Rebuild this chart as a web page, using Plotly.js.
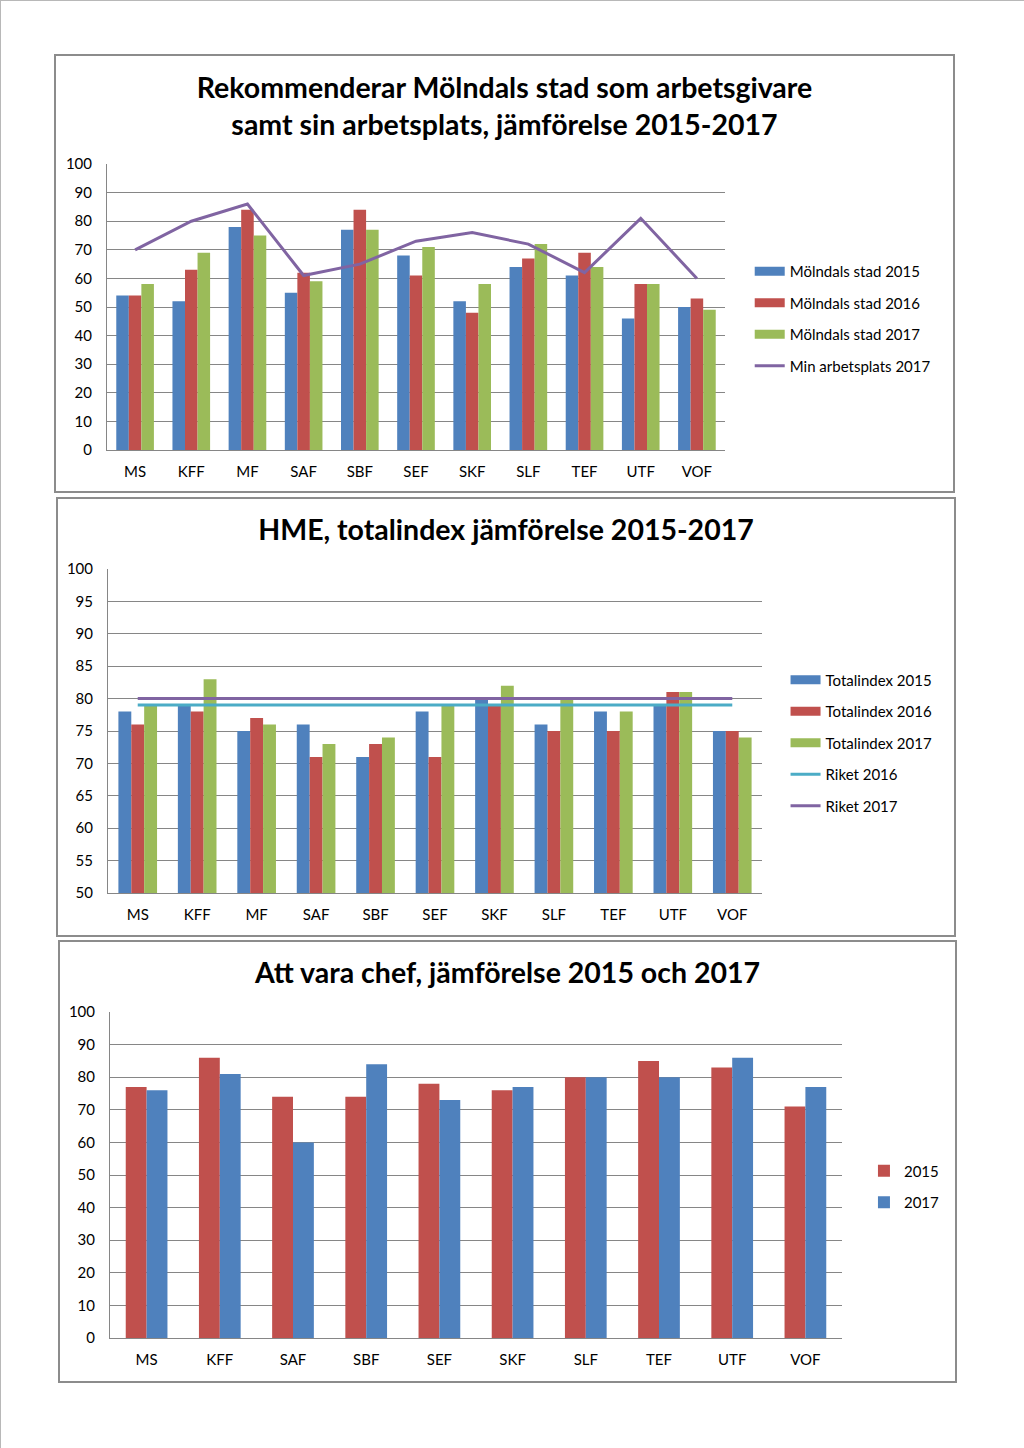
<!DOCTYPE html>
<html>
<head>
<meta charset="utf-8">
<script src="https://cdn.plot.ly/plotly-3.0.1.min.js"></script>
<style>
  html, body { margin: 0; padding: 0; background: #fff; }
  body { width: 1024px; height: 1448px; position: relative; overflow: hidden; }
  .page { position: absolute; left: 0; top: 0; width: 1023px; height: 1447px; border-top: 1px solid #b8b8b8; border-left: 1px solid #b8b8b8; }
  .plot { position: absolute; }
  .frame { position: absolute; border: 2px solid #8c8c8c; box-sizing: border-box; pointer-events: none; }
</style>
</head>
<body>
<div class="page"></div>
<div id="c1" class="plot" style="left:54px;top:54px;width:901px;height:439px;"></div>
<div class="frame" style="left:54px;top:54px;width:901px;height:439px;"></div>
<div id="c2" class="plot" style="left:56px;top:497px;width:900px;height:440px;"></div>
<div class="frame" style="left:56px;top:497px;width:900px;height:440px;"></div>
<div id="c3" class="plot" style="left:58px;top:940px;width:899px;height:443px;"></div>
<div class="frame" style="left:58px;top:940px;width:899px;height:443px;"></div>
<script>
// ---------- Chart 1 data ----------
const cats1 = ["MS","KFF","MF","SAF","SBF","SEF","SKF","SLF","TEF","UTF","VOF"];
const molndal2015 = [54, 52, 78, 55, 77, 68, 52, 64, 61, 46, 50];
const molndal2016 = [54, 63, 84, 62, 84, 61, 48, 67, 69, 58, 53];
const molndal2017 = [58, 69, 75, 59, 77, 71, 58, 72, 64, 58, 49];
const minArbetsplats2017 = [70, 80, 86, 61, 65, 73, 76, 72, 62, 81, 60];

// ---------- Chart 2 data ----------
const cats2 = ["MS","KFF","MF","SAF","SBF","SEF","SKF","SLF","TEF","UTF","VOF"];
const total2015 = [78, 79, 75, 76, 71, 78, 80, 76, 78, 79, 75];
const total2016 = [76, 78, 77, 71, 73, 71, 79, 75, 75, 81, 75];
const total2017 = [79, 83, 76, 73, 74, 79, 82, 80, 78, 81, 74];
const riket2016 = [79, 79, 79, 79, 79, 79, 79, 79, 79, 79, 79];
const riket2017 = [80, 80, 80, 80, 80, 80, 80, 80, 80, 80, 80];

// ---------- Chart 3 data ----------
const cats3 = ["MS","KFF","SAF","SBF","SEF","SKF","SLF","TEF","UTF","VOF"];
const chef2015 = [77, 86, 74, 74, 78, 76, 80, 85, 83, 71];
const chef2017 = [76, 81, 60, 84, 73, 77, 80, 80, 86, 77];

const BLUE = "#4F81BD", RED = "#C0504D", GREEN = "#9BBB59", PURPLE = "#8064A2", CYAN = "#4BACC6";
const FONT = "Lato, 'Open Sans', sans-serif";
const GRID = "#868686";

function baseLayout(w, h, m, titleText, titleY, yr, dtick, legX, legY) {
  return {
    width: w, height: h,
    margin: m,
    paper_bgcolor: "#fff", plot_bgcolor: "#fff",
    font: { family: FONT, size: 15, color: "#000" },
    title: { text: titleText, x: 0.5, xanchor: "center", y: titleY, yanchor: "middle",
             font: { family: FONT, size: 28.5, color: "#000", weight: "bold" } },
    barmode: "group",
    showlegend: true,
    legend: { x: legX, y: legY, xanchor: "left", yanchor: "middle",
              font: { family: FONT, size: 15, color: "#000" },
              traceorder: "grouped", tracegroupgap: 9, bgcolor: "rgba(0,0,0,0)" },
    xaxis: { type: "category", showgrid: false, showline: true, linecolor: GRID, linewidth: 1,
             ticks: "", tickfont: { family: FONT, size: 15, color: "#000" }, ticklabelstandoff: 8, fixedrange: true },
    yaxis: { range: yr, dtick: dtick, tick0: yr[0], showgrid: true, gridcolor: GRID, gridwidth: 1,
             showline: true, linecolor: GRID, linewidth: 1, zeroline: false, ticks: "",
             tickfont: { family: FONT, size: 15, color: "#000" }, ticklabelstandoff: 11, fixedrange: true }
  };
}

// Legend key for a bar series drawn as a wide block (Excel style)
function barKey(name, color, group, rank) {
  return { type: "scatter", mode: "lines", name: name, x: [null], y: [null],
           line: { color: color, width: 9 }, legendgroup: group, legendrank: rank,
           showlegend: true, hoverinfo: "skip" };
}

// Chart 1
const t1 = [
  { type: "bar", name: "Mölndals stad 2015", x: cats1, y: molndal2015, marker: { color: BLUE }, legendgroup: "a", showlegend: false },
  { type: "bar", name: "Mölndals stad 2016", x: cats1, y: molndal2016, marker: { color: RED }, legendgroup: "b", showlegend: false },
  { type: "bar", name: "Mölndals stad 2017", x: cats1, y: molndal2017, marker: { color: GREEN }, legendgroup: "c", showlegend: false },
  barKey("Mölndals stad 2015", BLUE, "a", 1),
  barKey("Mölndals stad 2016", RED, "b", 2),
  barKey("Mölndals stad 2017", GREEN, "c", 3),
  { type: "scatter", mode: "lines", name: "Min arbetsplats 2017", x: cats1, y: minArbetsplats2017,
    line: { color: PURPLE, width: 3 }, legendgroup: "d", legendrank: 4 }
];
const l1 = baseLayout(901, 439, { l: 53, r: 230, t: 110, b: 43 },
  "Rekommenderar Mölndals stad som arbetsgivare<br>samt sin arbetsplats, jämförelse 2015-2017",
  0.90, [0, 100], 10, 1.04, 0.46);
l1.bargap = 0.33; l1.bargroupgap = 0;

// Chart 2
const t2 = [
  { type: "bar", name: "Totalindex 2015", x: cats2, y: total2015, marker: { color: BLUE }, legendgroup: "a", showlegend: false },
  { type: "bar", name: "Totalindex 2016", x: cats2, y: total2016, marker: { color: RED }, legendgroup: "b", showlegend: false },
  { type: "bar", name: "Totalindex 2017", x: cats2, y: total2017, marker: { color: GREEN }, legendgroup: "c", showlegend: false },
  barKey("Totalindex 2015", BLUE, "a", 1),
  barKey("Totalindex 2016", RED, "b", 2),
  barKey("Totalindex 2017", GREEN, "c", 3),
  { type: "scatter", mode: "lines", name: "Riket 2016", x: cats2, y: riket2016, line: { color: CYAN, width: 3 }, legendgroup: "d", legendrank: 4 },
  { type: "scatter", mode: "lines", name: "Riket 2017", x: cats2, y: riket2017, line: { color: PURPLE, width: 3 }, legendgroup: "e", legendrank: 5 }
];
const l2 = baseLayout(900, 440, { l: 52, r: 194, t: 72, b: 44 },
  "HME, totalindex jämförelse 2015-2017", 0.925, [50, 100], 5, 1.036, 0.463);
l2.bargap = 0.35; l2.bargroupgap = 0;

// Chart 3
const t3 = [
  { type: "bar", name: "2015", x: cats3, y: chef2015, marker: { color: RED }, legendgroup: "a" },
  { type: "bar", name: "2017", x: cats3, y: chef2017, marker: { color: BLUE }, legendgroup: "b" }
];
const l3 = baseLayout(899, 443, { l: 52, r: 95, t: 72, b: 45 },
  "Att vara chef, jämförelse 2015 och 2017", 0.9255, [0, 100], 10, 1.03, 0.465);
l3.bargap = 0.43; l3.bargroupgap = 0;

const cfg = { staticPlot: true, displayModeBar: false };
Plotly.newPlot("c1", t1, l1, cfg);
Plotly.newPlot("c2", t2, l2, cfg);
Plotly.newPlot("c3", t3, l3, cfg);
</script>
</body>
</html>
